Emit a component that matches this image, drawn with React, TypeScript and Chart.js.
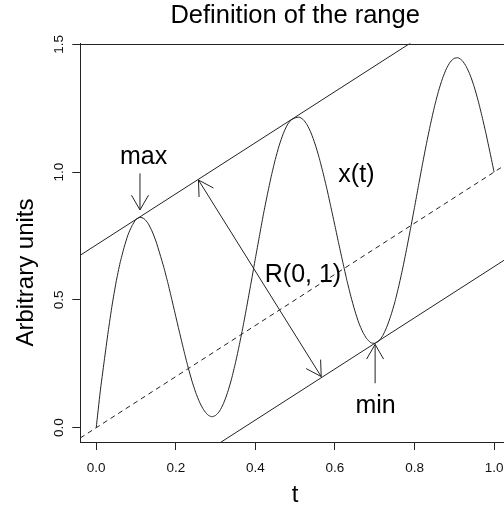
import React, { useEffect, useRef } from 'react';
import { Chart, registerables } from 'chart.js';

Chart.register(...registerables);

// ---- data ----
const T_VALUES = [
  0, 0.01, 0.02, 0.03, 0.04, 0.05, 0.06, 0.07, 0.08, 0.09,
  0.1, 0.11, 0.12, 0.13, 0.14, 0.15, 0.16, 0.17, 0.18, 0.19,
  0.2, 0.21, 0.22, 0.23, 0.24, 0.25, 0.26, 0.27, 0.28, 0.29,
  0.3, 0.31, 0.32, 0.33, 0.34, 0.35, 0.36, 0.37, 0.38, 0.39,
  0.4, 0.41, 0.42, 0.43, 0.44, 0.45, 0.46, 0.47, 0.48, 0.49,
  0.5, 0.51, 0.52, 0.53, 0.54, 0.55, 0.56, 0.57, 0.58, 0.59,
  0.6, 0.61, 0.62, 0.63, 0.64, 0.65, 0.66, 0.67, 0.68, 0.69,
  0.7, 0.71, 0.72, 0.73, 0.74, 0.75, 0.76, 0.77, 0.78, 0.79,
  0.8, 0.81, 0.82, 0.83, 0.84, 0.85, 0.86, 0.87, 0.88, 0.89,
  0.9, 0.91, 0.92, 0.93, 0.94, 0.95, 0.96, 0.97, 0.98, 0.99,
  1.0,
];

const X_OF_T = [
  0, 0.14, 0.26, 0.375, 0.48, 0.57, 0.645, 0.705, 0.755, 0.79,
  0.815, 0.823, 0.818, 0.8, 0.77, 0.73, 0.68, 0.627, 0.567, 0.502,
  0.435, 0.369, 0.304, 0.242, 0.186, 0.138, 0.099, 0.07, 0.051, 0.043,
  0.048, 0.065, 0.095, 0.137, 0.19, 0.254, 0.326, 0.404, 0.488, 0.574,
  0.662, 0.748, 0.833, 0.911, 0.984, 1.049, 1.105, 1.15, 1.184, 1.204,
  1.212, 1.215, 1.206, 1.185, 1.153, 1.11, 1.058, 0.998, 0.933, 0.862,
  0.79, 0.717, 0.646, 0.577, 0.514, 0.458, 0.41, 0.374, 0.348, 0.333,
  0.33, 0.339, 0.36, 0.393, 0.436, 0.488, 0.551, 0.621, 0.698, 0.779,
  0.862, 0.947, 1.031, 1.111, 1.186, 1.255, 1.315, 1.365, 1.404, 1.431,
  1.445, 1.447, 1.436, 1.413, 1.379, 1.334, 1.279, 1.216, 1.148, 1.075,
  1.0,
];

// straight lines (slope 1) drawn across the whole plot region
const LINE_T = [-0.04, 1.04];
const UPPER_LINE = [0.675, 1.755];
const TREND_LINE = [-0.04, 1.04];
const LOWER_LINE = [-0.41, 0.67];

const X_TICKS = [0, 0.2, 0.4, 0.6, 0.8, 1.0];
const X_TICK_LABELS = ['0.0', '0.2', '0.4', '0.6', '0.8', '1.0'];
const Y_TICKS = [0, 0.5, 1.0, 1.5];
const Y_TICK_LABELS = ['0.0', '0.5', '1.0', '1.5'];

// annotations (data coordinates)
const ARROWS = [
  { x0: 0.11, y0: 0.995, x1: 0.11, y1: 0.852, both: false },
  { x0: 0.257, y0: 0.969, x1: 0.5655, y1: 0.2, both: true },
  { x0: 0.701, y0: 0.174, x1: 0.701, y1: 0.326, both: false },
];
const NOTES = [
  { text: 'max', x: 0.119, y: 1.032 },
  { text: 'x(t)', x: 0.654, y: 0.962 },
  { text: 'R(0, 1)', x: 0.5196, y: 0.571 },
  { text: 'min', x: 0.702, y: 0.059 },
];

const TITLE = 'Definition of the range';
const X_TITLE = 't';
const Y_TITLE = 'Arbitrary units';

const FONT = '"Liberation Sans", Arial, Helvetica, sans-serif';
const INK = '#222';

const toPoints = (xs: number[], ys: number[]) => xs.map((x, i) => ({ x, y: ys[i] }));

const decorPlugin = {
  id: 'decor',
  afterDraw(chart: any) {
    const { ctx, chartArea } = chart;
    const xs = chart.scales.x;
    const ys = chart.scales.y;
    ctx.save();
    ctx.fillStyle = '#000';

    // box top / right
    ctx.strokeStyle = INK;
    ctx.lineWidth = 1;
    ctx.beginPath();
    ctx.moveTo(chartArea.left, Math.round(chartArea.top) + 0.5);
    ctx.lineTo(chartArea.right, Math.round(chartArea.top) + 0.5);
    ctx.lineTo(chartArea.right, chartArea.bottom);
    ctx.stroke();

    // title
    ctx.font = `25.5px ${FONT}`;
    ctx.textAlign = 'center';
    ctx.textBaseline = 'alphabetic';
    const cx = (chartArea.left + chartArea.right) / 2;
    ctx.fillText(TITLE, cx, chartArea.top - 21);

    // x title
    ctx.font = `24px ${FONT}`;
    ctx.fillText(X_TITLE, cx, chartArea.bottom + 59.5);

    // y title
    ctx.save();
    ctx.translate(32.5, 272.5);
    ctx.rotate(-Math.PI / 2);
    ctx.fillText(Y_TITLE, 0, 0);
    ctx.restore();

    // tick labels
    ctx.font = `13.5px ${FONT}`;
    ctx.fillStyle = '#111';
    X_TICKS.forEach((v, i) => {
      ctx.fillText(X_TICK_LABELS[i], xs.getPixelForValue(v), chartArea.bottom + 29.5);
    });
    Y_TICKS.forEach((v, i) => {
      ctx.save();
      ctx.translate(chartArea.left - 17.8, ys.getPixelForValue(v));
      ctx.rotate(-Math.PI / 2);
      ctx.fillText(Y_TICK_LABELS[i], 0, 0);
      ctx.restore();
    });

    // clip annotations to plot region
    ctx.beginPath();
    ctx.rect(chartArea.left, chartArea.top, chartArea.right - chartArea.left, chartArea.bottom - chartArea.top);
    ctx.clip();

    // notes
    ctx.fillStyle = '#000';
    ctx.font = `25px ${FONT}`;
    NOTES.forEach((n) => {
      ctx.fillText(n.text, xs.getPixelForValue(n.x), ys.getPixelForValue(n.y));
    });

    // arrows
    const head = (tx: number, ty: number, fx: number, fy: number) => {
      const ang = Math.atan2(ty - fy, tx - fx);
      const L = 17;
      const a = Math.PI / 6;
      ctx.beginPath();
      ctx.moveTo(tx - L * Math.cos(ang - a), ty - L * Math.sin(ang - a));
      ctx.lineTo(tx, ty);
      ctx.lineTo(tx - L * Math.cos(ang + a), ty - L * Math.sin(ang + a));
      ctx.stroke();
    };
    ctx.strokeStyle = INK;
    ctx.lineWidth = 1;
    ARROWS.forEach((ar) => {
      const px0 = xs.getPixelForValue(ar.x0);
      const py0 = ys.getPixelForValue(ar.y0);
      const px1 = xs.getPixelForValue(ar.x1);
      const py1 = ys.getPixelForValue(ar.y1);
      ctx.beginPath();
      ctx.moveTo(px0, py0);
      ctx.lineTo(px1, py1);
      ctx.stroke();
      head(px1, py1, px0, py0);
      if (ar.both) head(px0, py0, px1, py1);
    });

    ctx.restore();
  },
};

export default function App() {
  const ref = useRef<HTMLCanvasElement | null>(null);

  useEffect(() => {
    if (!ref.current) return;
    const lineStyle = {
      borderColor: INK,
      borderWidth: 1,
      pointRadius: 0,
      fill: false,
    };
    const chart = new Chart(ref.current, {
      type: 'line',
      data: {
        datasets: [
          { ...lineStyle, label: 'x(t)', data: toPoints(T_VALUES, X_OF_T), tension: 0.2 },
          { ...lineStyle, label: 'upper', data: toPoints(LINE_T, UPPER_LINE), tension: 0 },
          { ...lineStyle, label: 'trend', data: toPoints(LINE_T, TREND_LINE), tension: 0, borderDash: [5, 4] },
          { ...lineStyle, label: 'lower', data: toPoints(LINE_T, LOWER_LINE), tension: 0 },
        ],
      },
      options: {
        animation: false,
        responsive: false,
        devicePixelRatio: 1,
        events: [],
        layout: { padding: { top: 43.5, right: 10, left: 0, bottom: 0 } },
        plugins: { legend: { display: false }, tooltip: { enabled: false }, title: { display: false } },
        scales: {
          x: {
            type: 'linear',
            position: 'bottom',
            min: -0.04,
            max: 1.04,
            afterBuildTicks: (s: any) => { s.ticks = X_TICKS.map((v) => ({ value: v })); },
            afterFit: (s: any) => { s.height = 66; },
            ticks: { display: false },
            grid: { drawOnChartArea: false, drawTicks: true, tickLength: 8, color: INK, lineWidth: 1 },
            border: { display: true, color: INK, width: 1 },
          },
          y: {
            type: 'linear',
            position: 'left',
            min: -0.0559,
            max: 1.5031,
            afterBuildTicks: (s: any) => { s.ticks = Y_TICKS.map((v) => ({ value: v })); },
            afterFit: (s: any) => { s.width = 80.3; },
            ticks: { display: false },
            grid: { drawOnChartArea: false, drawTicks: true, tickLength: 8, color: INK, lineWidth: 1 },
            border: { display: true, color: INK, width: 1 },
          },
        },
      },
      plugins: [decorPlugin],
    } as any);
    return () => chart.destroy();
  }, []);

  return (
    <div
      style={{
        position: 'fixed',
        left: 0,
        top: 0,
        width: 504,
        height: 508,
        overflow: 'hidden',
        background: '#fff',
      }}
    >
      <canvas ref={ref} width={520} height={508} style={{ display: 'block', width: 520, height: 508 }} />
    </div>
  );
}
